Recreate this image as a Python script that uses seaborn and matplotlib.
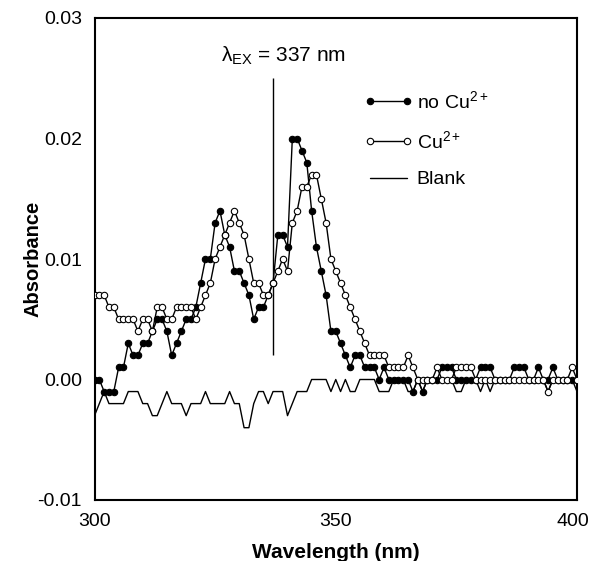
import matplotlib
matplotlib.use("Agg")
import matplotlib.pyplot as plt
import matplotlib.transforms as mtransforms
from matplotlib.lines import Line2D
from matplotlib.legend_handler import HandlerLine2D
import pandas as pd
import seaborn as sns

wavelength = list(range(300, 401))

no_cu = [
    0.000, 0.000, -0.001, -0.001, -0.001, 0.001, 0.001, 0.003, 0.002, 0.002,
    0.003, 0.003, 0.004, 0.005, 0.005, 0.004, 0.002, 0.003, 0.004, 0.005,
    0.005, 0.006, 0.008, 0.010, 0.010, 0.013, 0.014, 0.012, 0.011, 0.009,
    0.009, 0.008, 0.007, 0.005, 0.006, 0.006, 0.007, 0.008, 0.012, 0.012,
    0.011, 0.020, 0.020, 0.019, 0.018, 0.014, 0.011, 0.009, 0.007, 0.004,
    0.004, 0.003, 0.002, 0.001, 0.002, 0.002, 0.001, 0.001, 0.001, 0.000,
    0.001, 0.000, 0.000, 0.000, 0.000, 0.000, -0.001, 0.000, -0.001, 0.000,
    0.000, 0.000, 0.001, 0.001, 0.001, 0.000, 0.000, 0.000, 0.000, 0.000,
    0.001, 0.001, 0.001, 0.000, 0.000, 0.000, 0.000, 0.001, 0.001, 0.001,
    0.000, 0.000, 0.001, 0.000, 0.000, 0.001, 0.000, 0.000, 0.000, 0.000,
    0.000,
]

cu = [
    0.007, 0.007, 0.007, 0.006, 0.006, 0.005, 0.005, 0.005, 0.005, 0.004,
    0.005, 0.005, 0.004, 0.006, 0.006, 0.005, 0.005, 0.006, 0.006, 0.006,
    0.006, 0.005, 0.006, 0.007, 0.008, 0.010, 0.011, 0.012, 0.013, 0.014,
    0.013, 0.012, 0.010, 0.008, 0.008, 0.007, 0.007, 0.008, 0.009, 0.010,
    0.009, 0.013, 0.014, 0.016, 0.016, 0.017, 0.017, 0.015, 0.013, 0.010,
    0.009, 0.008, 0.007, 0.006, 0.005, 0.004, 0.003, 0.002, 0.002, 0.002,
    0.002, 0.001, 0.001, 0.001, 0.001, 0.002, 0.001, 0.000, 0.000, 0.000,
    0.000, 0.001, 0.000, 0.000, 0.000, 0.001, 0.001, 0.001, 0.001, 0.000,
    0.000, 0.000, 0.000, 0.000, 0.000, 0.000, 0.000, 0.000, 0.000, 0.000,
    0.000, 0.000, 0.000, 0.000, -0.001, 0.000, 0.000, 0.000, 0.000, 0.001,
    0.000,
]

blank = [
    -0.003, -0.002, -0.001, -0.002, -0.002, -0.002, -0.002, -0.001, -0.001, -0.001,
    -0.002, -0.002, -0.003, -0.003, -0.002, -0.001, -0.002, -0.002, -0.002, -0.003,
    -0.002, -0.002, -0.002, -0.001, -0.002, -0.002, -0.002, -0.002, -0.001, -0.002,
    -0.002, -0.004, -0.004, -0.002, -0.001, -0.001, -0.002, -0.001, -0.001, -0.001,
    -0.003, -0.002, -0.001, -0.001, -0.001, 0.000, 0.000, 0.000, 0.000, -0.001,
    0.000, -0.001, 0.000, -0.001, -0.001, 0.000, 0.000, 0.000, 0.000, -0.001,
    -0.001, -0.001, 0.000, 0.000, 0.000, -0.001, -0.001, 0.000, -0.001, 0.000,
    0.000, 0.000, 0.000, 0.000, 0.000, -0.001, -0.001, 0.000, 0.000, 0.000,
    -0.001, 0.000, -0.001, 0.000, 0.000, 0.000, 0.000, 0.000, 0.000, 0.000,
    0.000, 0.000, 0.000, 0.000, -0.001, 0.000, 0.000, 0.000, 0.000, 0.000,
    -0.001,
]

series_labels = ["no Cu$^{2+}$", "Cu$^{2+}$", "Blank"]
x_ticks = [300, 350, 400]
y_ticks = [-0.01, 0.00, 0.01, 0.02, 0.03]
excitation_nm = 337
excitation_line_range = (0.002, 0.025)
annotation_text = "λ$_{\\mathrm{EX}}$ = 337 nm"

sns.set_style("white")
plt.rcParams["font.family"] = ["Liberation Sans", "DejaVu Sans"]
plt.rcParams["mathtext.fontset"] = "custom"
plt.rcParams["mathtext.rm"] = "Liberation Sans"
plt.rcParams["mathtext.it"] = "Liberation Sans:italic"
plt.rcParams["mathtext.bf"] = "Liberation Sans:bold"
plt.rcParams["axes.unicode_minus"] = False
for key in ["text.color", "axes.labelcolor", "xtick.color", "ytick.color"]:
    plt.rcParams[key] = "black"

df = pd.DataFrame({"wl": wavelength, "no_cu": no_cu, "cu": cu, "blank": blank})

fig = plt.figure(figsize=(5.9, 5.61), dpi=100)
ax = fig.add_axes([94.5 / 590, 1 - 500 / 561, (577 - 94.5) / 590, (500 - 18) / 561])

sns.lineplot(data=df, x="wl", y="blank", ax=ax, color="black", lw=1.0,
             label=series_labels[2], zorder=2)
sns.lineplot(data=df, x="wl", y="no_cu", ax=ax, color="black", lw=1.0,
             marker="o", markersize=4.6, markerfacecolor="black",
             markeredgecolor="black", markeredgewidth=0.8,
             label=series_labels[0], zorder=3)
sns.lineplot(data=df, x="wl", y="cu", ax=ax, color="black", lw=1.0,
             marker="o", markersize=4.6, markerfacecolor="white",
             markeredgecolor="black", markeredgewidth=0.8,
             label=series_labels[1], zorder=4)

ax.vlines(excitation_nm, *excitation_line_range, color="black", lw=1.0)
ax.text(339.2, 0.0269, annotation_text, ha="center", va="center", fontsize=15)

ax.set_xlim(300, 400)
ax.set_ylim(-0.01, 0.03)
ax.set_xticks(x_ticks)
ax.set_yticks(y_ticks)
ax.set_yticklabels([f"{v:.2f}" for v in y_ticks])
ax.tick_params(direction="in", length=6, width=1.0, labelsize=14, pad=9)

# nudge the last x tick label slightly left so it stays inside the figure
last_label = ax.get_xticklabels()[-1]
last_label.set_transform(last_label.get_transform() +
                         mtransforms.ScaledTranslation(-4 / 100, 0, fig.dpi_scale_trans))

for s in ax.spines.values():
    s.set_linewidth(1.5)
    s.set_color("black")

ax.set_xlabel("Wavelength (nm)", fontsize=15, fontweight="bold")
ax.set_ylabel("Absorbance", fontsize=14.5, fontweight="bold")
ax.xaxis.set_label_coords(0.5, -0.09)
ax.yaxis.set_label_coords(-0.107, 0.5)

handles, labels = ax.get_legend_handles_labels()
order = [labels.index(l) for l in series_labels]
ax.legend([handles[i] for i in order], [labels[i] for i in order],
          loc="upper left", bbox_to_anchor=(0.535, 0.887), frameon=False,
          fontsize=14, handlelength=1.9, handletextpad=0.5,
          labelspacing=0.95,
          handler_map={Line2D: HandlerLine2D(marker_pad=0, numpoints=2)})

fig.savefig("out.png", dpi=100)
